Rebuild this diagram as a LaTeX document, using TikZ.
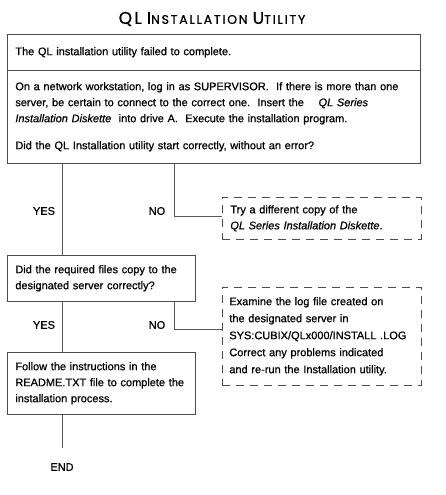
\documentclass[tikz,border=0pt]{standalone}
\usepackage{fontspec}
\setmainfont{Liberation Sans}[FakeBold=0.7]
\newfontfamily\titlefont{Poppins}[LetterSpace=14,FakeBold=0.8]
\newcommand\ttlcap[1]{{\fontsize{17}{17}\selectfont #1}}
\begin{document}
\begin{tikzpicture}[x=1pt,y=-1pt,
  every node/.style={font=\fontsize{11}{16}\selectfont, text=black},
  box/.style={draw=black!70, line width=0.7pt, anchor=north west, align=left, inner xsep=8pt, inner ysep=0pt},
  dbox/.style={box, dash pattern=on 8pt off 6pt, inner xsep=8pt},
  lbl/.style={inner sep=0pt},
  wire/.style={draw=black!65, line width=0.6pt}]
\useasboundingbox (0,0) rectangle (446,495);
\fill[white] (0,0) rectangle (446,495);
% title
\node (title) at (212,19) {\titlefont\fontsize{12.5}{15}\selectfont\ttlcap{QL} \ttlcap{I}NSTALLATION \ttlcap{U}TILITY};
% first box
\node[box, minimum width=413pt, minimum height=36pt, text width=397pt] (fail) at (7,34)
  {The QL installation utility failed to complete.};
\node[box, minimum width=413pt, minimum height=93pt, text width=397pt] (netq) at (7,70)
  {On a network workstation, log in as SUPERVISOR.\ \ If there is more than one\\
   server, be certain to connect to the correct one.\ \ Insert the\ \ \ \ \textit{QL Series}\\
   \textit{Installation Diskette}\ \ into drive A.\ \ Execute the installation program.\\[11pt]
   Did the QL Installation utility start correctly, without an error?};
% second box
\node[box, minimum width=188pt, minimum height=46pt, text width=172pt] (copyq) at (7,255)
  {Did the required files copy to the\\ designated server correctly?};
% third box
\node[box, minimum width=188pt, minimum height=62pt, text width=172pt] (follow) at (7,352)
  {Follow the instructions in the\\ README.TXT file to complete the\\ installation process.};
% dashed boxes
\node[dbox, minimum width=199pt, minimum height=42pt, text width=183pt] (retry) at (222,197)
  {Try a different copy of the\\ \textit{QL Series Installation Diskette}.};
\node[dbox, minimum width=199pt, minimum height=98pt, text width=185pt, font=\fontsize{11}{17}\selectfont, inner xsep=7pt] (examine) at (222,287)
  {Examine the log file created on\\ the designated server in\\ \mbox{SYS:CUBIX/QLx000/INSTALL .LOG}\\ Correct any problems indicated\\ and re-run the Installation utility.};
% labels
\node[lbl] (yes1) at (44,211) {YES};
\node[lbl] (no1) at (157,211) {NO};
\node[lbl] (yes2) at (44,325) {YES};
\node[lbl] (no2) at (157,325) {NO};
\node[lbl] (endn) at (62,467) {END};
% helper coordinates
\coordinate (mx) at (62,0);
\coordinate (nx) at (174,0);
\coordinate (c1) at (222,216);
\coordinate (c2) at (222,329);
\coordinate (e1) at (62,448);
% connectors
\draw[wire] (netq.south -| mx) -- (copyq.north -| mx);
\draw[wire] (copyq.south -| mx) -- (follow.north -| mx);
\draw[wire] (follow.south -| mx) -- (e1);
\draw[wire] (netq.south -| nx) |- (c1);
\draw[wire] (copyq.south -| nx) |- (c2);
\end{tikzpicture}
\end{document}
